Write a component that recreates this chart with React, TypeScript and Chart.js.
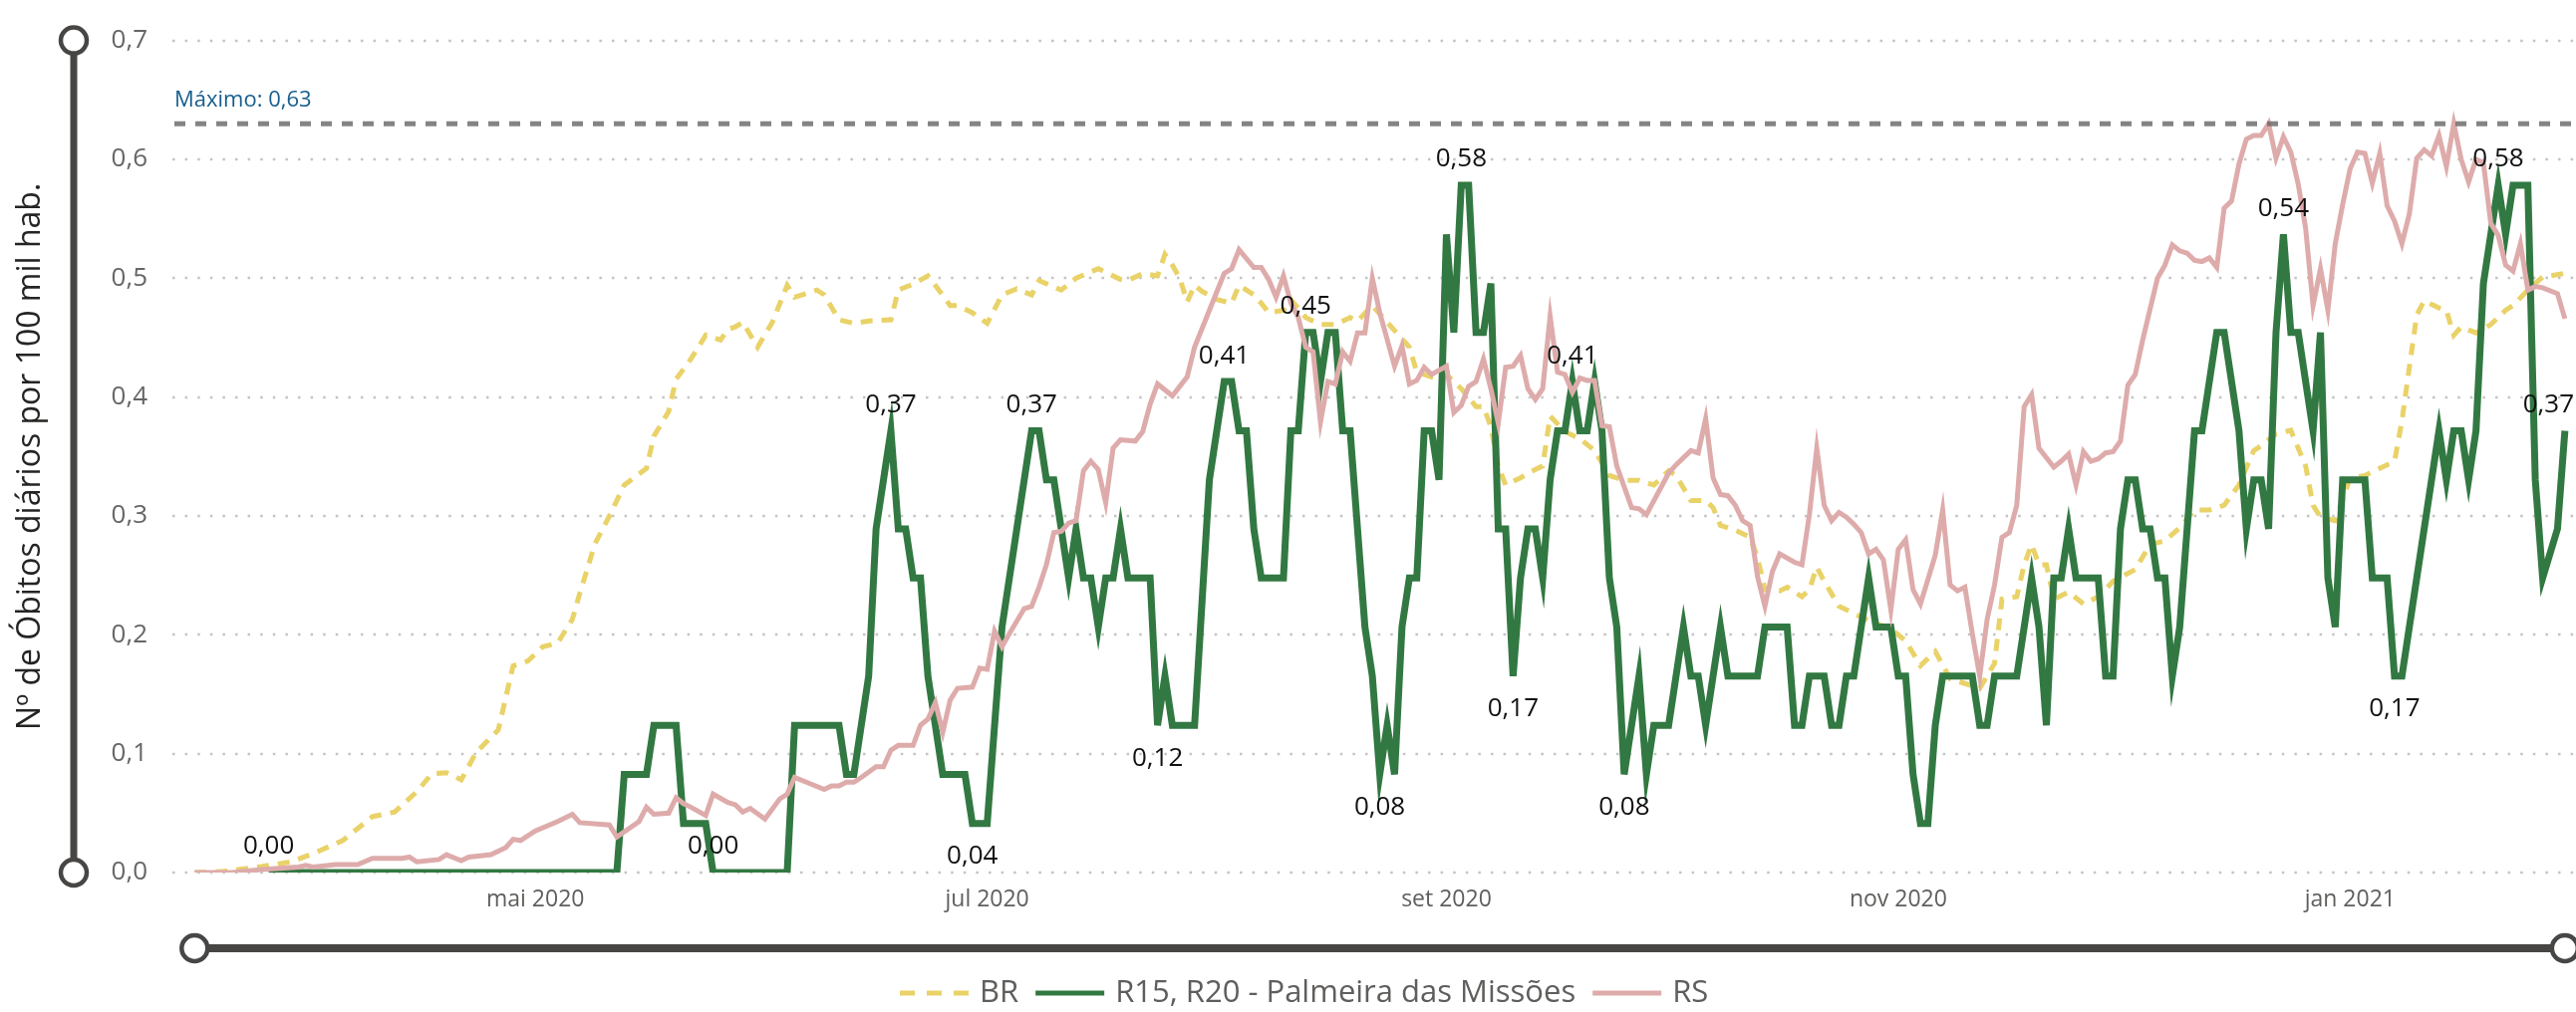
import React, { useEffect, useRef } from 'react';
import { Chart, registerables } from 'chart.js';

Chart.register(...registerables);

// ---------------- DATA ----------------
// x = days since 16 Mar 2020, y = deaths per 100k inhabitants (7-day average)
const MONTH_TICK_DAYS = [46, 107, 169, 230, 291];
const MONTH_TICK_LABELS = ['mai 2020', 'jul 2020', 'set 2020', 'nov 2020', 'jan 2021'];
const Y_TICKS = [0, 0.1, 0.2, 0.3, 0.4, 0.5, 0.6, 0.7];
const SERIES_NAMES = ['BR', 'R15, R20 - Palmeira das Missões', 'RS'];

const BR_POINTS: [number, number][] = [
  [0, 0], [4, 0.001], [9, 0.005], [13, 0.009], [16, 0.016], [20, 0.027], [24, 0.047], [27, 0.051], [30, 0.068],
  [32, 0.083], [34, 0.084], [36, 0.078], [38, 0.101], [41, 0.12], [43, 0.174], [45, 0.178], [47, 0.19], [49, 0.193],
  [51, 0.213], [52, 0.235], [53, 0.255], [54, 0.276], [56, 0.3], [58, 0.326], [61, 0.34], [62, 0.367], [64, 0.388],
  [65, 0.415], [67, 0.432], [69, 0.452], [71, 0.448], [72, 0.457], [73, 0.459], [74, 0.463], [76, 0.442], [78, 0.463],
  [80, 0.494], [81, 0.484], [84, 0.49], [85, 0.486], [87, 0.465], [89, 0.462], [91, 0.464], [94, 0.465], [95, 0.49],
  [97, 0.495], [99, 0.502], [100, 0.494], [102, 0.477], [103, 0.477], [105, 0.471], [107, 0.462], [109, 0.486],
  [111, 0.491], [113, 0.486], [114, 0.498], [117, 0.49], [119, 0.5], [122, 0.508], [125, 0.499], [126, 0.498],
  [128, 0.504], [130, 0.502], [131, 0.52], [132, 0.511], [133, 0.5], [134, 0.48], [135, 0.494], [136, 0.489],
  [138, 0.482], [140, 0.479], [141, 0.494], [143, 0.486], [144, 0.479], [145, 0.471], [147, 0.473], [148, 0.482],
  [150, 0.467], [152, 0.461], [154, 0.461], [156, 0.467], [157, 0.464], [159, 0.477], [162, 0.456], [164, 0.442],
  [165, 0.421], [167, 0.417], [169, 0.419], [171, 0.407], [173, 0.392], [174, 0.392], [175, 0.375], [176, 0.342],
  [177, 0.326], [179, 0.332], [180, 0.336], [182, 0.342], [183, 0.384], [185, 0.371], [187, 0.365], [189, 0.355],
  [191, 0.334], [193, 0.33], [195, 0.33], [197, 0.326], [199, 0.338], [200, 0.334], [202, 0.313], [204, 0.313],
  [205, 0.307], [206, 0.292], [208, 0.288], [210, 0.282], [211, 0.265], [212, 0.238], [214, 0.237], [215, 0.24],
  [217, 0.232], [218, 0.238], [219, 0.257], [220, 0.245], [222, 0.224], [224, 0.218], [226, 0.212], [229, 0.205],
  [231, 0.195], [233, 0.174], [235, 0.186], [237, 0.163], [239, 0.159], [241, 0.155], [243, 0.176], [244, 0.23],
  [246, 0.232], [247, 0.259], [248, 0.276], [249, 0.259], [250, 0.259], [251, 0.23], [253, 0.236], [255, 0.226],
  [257, 0.232], [259, 0.245], [262, 0.255], [264, 0.276], [266, 0.279], [268, 0.29], [270, 0.305], [272, 0.305],
  [274, 0.309], [276, 0.326], [278, 0.355], [279, 0.359], [281, 0.369], [283, 0.372], [285, 0.342], [286, 0.309],
  [287, 0.299], [289, 0.296], [291, 0.332], [293, 0.334], [295, 0.34], [297, 0.346], [298, 0.38], [299, 0.425],
  [300, 0.469], [301, 0.481], [303, 0.475], [304, 0.473], [305, 0.452], [306, 0.459], [308, 0.454], [310, 0.461],
  [312, 0.473], [313, 0.477], [315, 0.49], [317, 0.501], [320, 0.504],
];

const R15_POINTS: [number, number][] = [
  [10, 0], [57, 0], [58, 0.0826], [61, 0.0826], [62, 0.1239], [65, 0.1239], [66, 0.0413], [69, 0.0413], [70, 0],
  [80, 0], [81, 0.1239], [87, 0.1239], [88, 0.0826], [89, 0.0826], [91, 0.1652], [92, 0.2891], [94, 0.3717],
  [95, 0.2891], [96, 0.2891], [97, 0.2478], [98, 0.2478], [99, 0.1652], [101, 0.0826], [104, 0.0826], [105, 0.0413],
  [107, 0.0413], [109, 0.2065], [111, 0.2891], [113, 0.3717], [114, 0.3717], [115, 0.3304], [116, 0.3304],
  [118, 0.2478], [119, 0.2891], [120, 0.2478], [121, 0.2478], [122, 0.2065], [123, 0.2478], [124, 0.2478],
  [125, 0.2891], [126, 0.2478], [129, 0.2478], [130, 0.1239], [131, 0.1652], [132, 0.1239], [135, 0.1239],
  [137, 0.3304], [139, 0.413], [140, 0.413], [141, 0.3717], [142, 0.3717], [143, 0.2891], [144, 0.2478],
  [147, 0.2478], [148, 0.3717], [149, 0.3717], [150, 0.4543], [151, 0.4543], [152, 0.413], [153, 0.4543],
  [154, 0.4543], [155, 0.3717], [156, 0.3717], [158, 0.2065], [159, 0.1652], [160, 0.0826], [161, 0.1239],
  [162, 0.0826], [163, 0.2065], [164, 0.2478], [165, 0.2478], [166, 0.3717], [167, 0.3717], [168, 0.3304],
  [169, 0.5369], [170, 0.4543], [171, 0.5782], [172, 0.5782], [173, 0.4543], [174, 0.4543], [175, 0.4956],
  [176, 0.2891], [177, 0.2891], [178, 0.1652], [179, 0.2478], [180, 0.2891], [181, 0.2891], [182, 0.2478],
  [183, 0.3304], [184, 0.3717], [185, 0.3717], [186, 0.413], [187, 0.3717], [188, 0.3717], [189, 0.413],
  [190, 0.3717], [191, 0.2478], [192, 0.2065], [193, 0.0826], [195, 0.1652], [196, 0.0826], [197, 0.1239],
  [199, 0.1239], [201, 0.2065], [202, 0.1652], [203, 0.1652], [204, 0.1239], [206, 0.2065], [207, 0.1652],
  [211, 0.1652], [212, 0.2065], [215, 0.2065], [216, 0.1239], [217, 0.1239], [218, 0.1652], [220, 0.1652],
  [221, 0.1239], [222, 0.1239], [223, 0.1652], [224, 0.1652], [226, 0.2478], [227, 0.2065], [229, 0.2065],
  [230, 0.1652], [231, 0.1652], [232, 0.0826], [233, 0.0413], [234, 0.0413], [235, 0.1239], [236, 0.1652],
  [240, 0.1652], [241, 0.1239], [242, 0.1239], [243, 0.1652], [246, 0.1652], [248, 0.2478], [249, 0.2065],
  [250, 0.1239], [251, 0.2478], [252, 0.2478], [253, 0.2891], [254, 0.2478], [257, 0.2478], [258, 0.1652],
  [259, 0.1652], [260, 0.2891], [261, 0.3304], [262, 0.3304], [263, 0.2891], [264, 0.2891], [265, 0.2478],
  [266, 0.2478], [267, 0.1652], [268, 0.2065], [270, 0.3717], [271, 0.3717], [273, 0.4543], [274, 0.4543],
  [276, 0.3717], [277, 0.2891], [278, 0.3304], [279, 0.3304], [280, 0.2891], [281, 0.4543], [282, 0.5369],
  [283, 0.4543], [284, 0.4543], [286, 0.3717], [287, 0.4543], [288, 0.2478], [289, 0.2065], [290, 0.3304],
  [293, 0.3304], [294, 0.2478], [296, 0.2478], [297, 0.1652], [298, 0.1652], [303, 0.3717], [304, 0.3304],
  [305, 0.3717], [306, 0.3717], [307, 0.3304], [308, 0.3717], [309, 0.4956], [310, 0.5369], [311, 0.5782],
  [312, 0.5369], [313, 0.5782], [315, 0.5782], [316, 0.3304], [317, 0.2478], [319, 0.2891], [320, 0.3717],
];

const RS_POINTS: [number, number][] = [
  [0, 0], [5, 0], [9, 0.0025], [14, 0.0046], [15, 0.006], [16, 0.0046], [19, 0.0067], [22, 0.0067], [24, 0.012],
  [28, 0.012], [29, 0.013], [30, 0.009], [33, 0.011], [34, 0.015], [36, 0.01], [37, 0.013], [40, 0.015], [42, 0.021],
  [43, 0.028], [44, 0.027], [46, 0.035], [49, 0.043], [51, 0.049], [52, 0.042], [56, 0.04], [57, 0.03], [60, 0.043],
  [61, 0.055], [62, 0.049], [64, 0.05], [65, 0.063], [66, 0.058], [67, 0.055], [69, 0.048], [70, 0.066], [72, 0.059],
  [73, 0.057], [74, 0.051], [75, 0.054], [77, 0.045], [79, 0.062], [80, 0.066], [81, 0.08], [83, 0.075], [85, 0.07],
  [86, 0.073], [87, 0.073], [88, 0.076], [89, 0.076], [90, 0.08], [92, 0.089], [93, 0.089], [94, 0.103], [95, 0.107],
  [97, 0.107], [98, 0.124], [99, 0.129], [100, 0.143], [101, 0.118], [102, 0.145], [103, 0.155], [105, 0.156],
  [106, 0.172], [107, 0.171], [108, 0.203], [109, 0.19], [110, 0.201], [112, 0.222], [113, 0.224], [114, 0.24],
  [115, 0.259], [116, 0.286], [117, 0.287], [118, 0.294], [119, 0.296], [120, 0.338], [121, 0.346], [122, 0.339],
  [123, 0.311], [124, 0.357], [125, 0.364], [127, 0.363], [128, 0.371], [129, 0.394], [130, 0.411], [132, 0.401],
  [133, 0.409], [134, 0.417], [135, 0.442], [137, 0.473], [139, 0.504], [140, 0.508], [141, 0.524], [143, 0.509],
  [144, 0.509], [145, 0.499], [146, 0.484], [147, 0.502], [148, 0.479], [149, 0.467], [150, 0.442], [151, 0.438],
  [152, 0.379], [153, 0.413], [154, 0.411], [155, 0.438], [156, 0.43], [157, 0.454], [158, 0.454], [159, 0.5],
  [160, 0.471], [162, 0.426], [163, 0.443], [164, 0.411], [165, 0.414], [166, 0.425], [167, 0.419], [169, 0.426],
  [170, 0.387], [171, 0.393], [172, 0.409], [173, 0.413], [174, 0.432], [175, 0.407], [176, 0.378], [177, 0.425],
  [178, 0.426], [179, 0.435], [180, 0.407], [181, 0.398], [182, 0.407], [183, 0.468], [184, 0.421], [185, 0.419],
  [186, 0.404], [187, 0.416], [188, 0.414], [189, 0.414], [190, 0.376], [191, 0.375], [192, 0.342], [194, 0.307],
  [195, 0.306], [196, 0.301], [199, 0.336], [200, 0.343], [202, 0.355], [203, 0.353], [204, 0.382], [205, 0.332],
  [206, 0.318], [207, 0.317], [208, 0.309], [209, 0.296], [210, 0.292], [211, 0.249], [212, 0.224], [213, 0.253],
  [214, 0.268], [216, 0.261], [217, 0.259], [218, 0.301], [219, 0.357], [220, 0.309], [221, 0.296], [222, 0.303],
  [223, 0.299], [224, 0.293], [225, 0.286], [226, 0.268], [227, 0.272], [228, 0.263], [229, 0.221], [230, 0.272],
  [231, 0.28], [232, 0.238], [233, 0.226], [235, 0.267], [236, 0.305], [237, 0.242], [238, 0.237], [239, 0.24],
  [240, 0.201], [241, 0.165], [242, 0.213], [243, 0.242], [244, 0.282], [245, 0.286], [246, 0.309], [247, 0.392],
  [248, 0.402], [249, 0.357], [251, 0.341], [252, 0.346], [253, 0.352], [254, 0.326], [255, 0.354], [256, 0.346],
  [257, 0.348], [258, 0.353], [259, 0.354], [260, 0.363], [261, 0.41], [262, 0.419], [263, 0.448], [265, 0.5],
  [266, 0.511], [267, 0.528], [268, 0.523], [269, 0.521], [270, 0.515], [271, 0.514], [272, 0.517], [273, 0.509],
  [274, 0.559], [275, 0.565], [276, 0.596], [277, 0.617], [278, 0.62], [279, 0.62], [280, 0.63], [281, 0.601],
  [282, 0.619], [283, 0.606], [284, 0.579], [285, 0.542], [286, 0.477], [287, 0.508], [288, 0.473], [289, 0.529],
  [290, 0.562], [291, 0.592], [292, 0.606], [293, 0.605], [294, 0.58], [295, 0.605], [296, 0.561], [297, 0.548],
  [298, 0.529], [299, 0.554], [300, 0.601], [301, 0.608], [302, 0.603], [303, 0.62], [304, 0.594], [305, 0.63],
  [306, 0.6], [307, 0.581], [308, 0.6], [309, 0.597], [310, 0.546], [311, 0.536], [312, 0.511], [313, 0.506],
  [314, 0.529], [315, 0.49], [316, 0.493], [317, 0.492], [319, 0.487], [320, 0.466],
];

// data labels on the R15 series: day and whether the label sits below the point
const LABEL_DAYS = [10, 70, 94, 105, 113, 130, 139, 150, 160, 171, 178, 186, 193, 282, 297, 311, 320];
const LABEL_BELOW = [false, false, false, true, false, true, false, false, true, false, true, false, true, false, true, false, false];

// ---------------- STYLE ----------------
const FONT = "'Open Sans', 'Noto Sans', sans-serif";
const YELLOW = 'rgb(233, 210, 104)';
const GREEN = 'rgb(50, 120, 66)';
const PINK = 'rgb(222, 171, 171)';
const AXIS_DARK = '#474645';
const TEXT_GRAY = '#605E5C';

const fmt = (v: number, d: number) => v.toFixed(d).replace('.', ',');

const decorPlugin = {
  id: 'decor',
  beforeDatasetsDraw(chart: any) {
    const { ctx, chartArea, scales } = chart;
    const y = scales.y;
    ctx.save();
    ctx.strokeStyle = '#C4C4C4';
    ctx.lineWidth = 2.5;
    ctx.setLineDash([2.5, 10.1]);
    for (const v of Y_TICKS) {
      const py = Math.round(y.getPixelForValue(v));
      ctx.beginPath();
      ctx.moveTo(chartArea.left, py);
      ctx.lineTo(chartArea.right, py);
      ctx.stroke();
    }
    ctx.restore();
  },
  afterDatasetsDraw(chart: any) {
    const { ctx, chartArea, scales } = chart;
    const x = scales.x;
    const y = scales.y;
    // maximum line
    const allVals = [...BR_POINTS, ...R15_POINTS, ...RS_POINTS].map((p) => p[1]);
    const maxVal = Math.max(...allVals);
    const my = y.getPixelForValue(maxVal);
    ctx.save();
    ctx.strokeStyle = 'rgba(105,105,105,0.82)';
    ctx.lineWidth = 5;
    ctx.setLineDash([11, 10]);
    ctx.beginPath();
    ctx.moveTo(chartArea.left + 2, my);
    ctx.lineTo(chartArea.right, my);
    ctx.stroke();
    ctx.setLineDash([]);
    ctx.fillStyle = '#165D8C';
    ctx.font = `22px ${FONT}`;
    ctx.textAlign = 'left';
    ctx.textBaseline = 'middle';
    ctx.fillText('Máximo: ' + fmt(maxVal, 2), chartArea.left + 2, my - 23);

    // data labels
    ctx.font = `26px ${FONT}`;
    ctx.fillStyle = '#111';
    ctx.textAlign = 'center';
    LABEL_DAYS.forEach((d, i) => {
      const pt = R15_POINTS.find((p) => p[0] === d);
      if (!pt) return;
      const txt = fmt(pt[1], 2);
      let px = x.getPixelForValue(pt[0]);
      const w = ctx.measureText(txt).width;
      if (px + w / 2 > chart.width - 2) px = chart.width - 2 - w / 2;
      const py = y.getPixelForValue(pt[1]) + (LABEL_BELOW[i] ? 33 : -26);
      ctx.fillText(txt, px, py);
    });
    ctx.restore();
  },
  afterDraw(chart: any) {
    const { ctx, chartArea, scales } = chart;
    const x = scales.x;
    const y = scales.y;
    ctx.save();
    const ring = (cx: number, cy: number) => {
      ctx.beginPath();
      ctx.arc(cx, cy, 13, 0, Math.PI * 2);
      ctx.fillStyle = '#fff';
      ctx.fill();
      ctx.lineWidth = 4.5;
      ctx.strokeStyle = AXIS_DARK;
      ctx.stroke();
    };
    // vertical decorative axis
    const vx = 74;
    const yTop = y.getPixelForValue(0.7);
    const yBot = y.getPixelForValue(0);
    ctx.strokeStyle = AXIS_DARK;
    ctx.lineWidth = 7;
    ctx.beginPath();
    ctx.moveTo(vx, yTop);
    ctx.lineTo(vx, yBot);
    ctx.stroke();
    ring(vx, yTop);
    ring(vx, yBot);
    // horizontal decorative axis
    const hy = 952;
    const xL = x.getPixelForValue(RS_POINTS[0][0]);
    const xR = x.getPixelForValue(RS_POINTS[RS_POINTS.length - 1][0]);
    ctx.strokeStyle = AXIS_DARK;
    ctx.lineWidth = 8;
    ctx.beginPath();
    ctx.moveTo(xL, hy);
    ctx.lineTo(xR, hy);
    ctx.stroke();
    ring(xL, hy);
    ring(xR, hy);

    // y axis title
    ctx.save();
    ctx.translate(31, (chartArea.top + chartArea.bottom) / 2);
    ctx.rotate(-Math.PI / 2);
    ctx.fillStyle = '#252423';
    ctx.font = `32px ${FONT}`;
    ctx.textAlign = 'center';
    ctx.textBaseline = 'middle';
    ctx.fillText('Nº de Óbitos diários por 100 mil hab.', 0, 0);
    ctx.restore();

    // legend
    const items = [
      { name: SERIES_NAMES[0], color: YELLOW, dash: [15, 12] },
      { name: SERIES_NAMES[1], color: GREEN, dash: [] as number[] },
      { name: SERIES_NAMES[2], color: PINK, dash: [] as number[] },
    ];
    ctx.font = `31px ${FONT}`;
    ctx.textBaseline = 'middle';
    ctx.textAlign = 'left';
    const ly = 997;
    let lx = 903;
    items.forEach((it) => {
      ctx.strokeStyle = it.color;
      ctx.lineWidth = 5;
      ctx.setLineDash(it.dash);
      ctx.beginPath();
      ctx.moveTo(lx, ly);
      ctx.lineTo(lx + 69, ly);
      ctx.stroke();
      ctx.setLineDash([]);
      lx += 69 + 11;
      ctx.fillStyle = TEXT_GRAY;
      ctx.fillText(it.name, lx, ly);
      lx += ctx.measureText(it.name).width + 17;
    });
    ctx.restore();
  },
};

export default function App() {
  const ref = useRef<HTMLCanvasElement>(null);
  useEffect(() => {
    if (!ref.current) return;
    Chart.defaults.font.family = FONT;
    const toXY = (arr: [number, number][]) => arr.map(([d, v]) => ({ x: d, y: v }));
    const chart = new Chart(ref.current, {
      type: 'line',
      data: {
        datasets: [
          {
            label: SERIES_NAMES[0],
            data: toXY(BR_POINTS),
            borderColor: YELLOW,
            borderWidth: 5,
            borderDash: [12, 9],
            pointRadius: 0,
            tension: 0,
            fill: false,
            order: 3,
          },
          {
            label: SERIES_NAMES[1],
            data: toXY(R15_POINTS),
            borderColor: GREEN,
            borderWidth: 7,
            pointRadius: 0,
            tension: 0,
            fill: false,
            order: 2,
          },
          {
            label: SERIES_NAMES[2],
            data: toXY(RS_POINTS),
            borderColor: PINK,
            borderWidth: 5,
            pointRadius: 0,
            tension: 0,
            fill: false,
            order: 1,
          },
        ],
      },
      options: {
        animation: false,
        responsive: false,
        devicePixelRatio: 1,
        events: [],
        layout: { padding: { top: 30, right: 0, bottom: 0, left: 0 } },
        plugins: {
          legend: { display: false },
          tooltip: { enabled: false },
          title: { display: false },
        },
        scales: {
          x: {
            type: 'linear',
            min: -3,
            max: 321.5,
            afterBuildTicks: (s: any) => {
              s.ticks = MONTH_TICK_DAYS.map((v) => ({ value: v }));
            },
            afterFit: (s: any) => {
              s.height = 140;
            },
            ticks: {
              autoSkip: false,
              maxRotation: 0,
              padding: 14,
              color: TEXT_GRAY,
              font: { family: FONT, size: 23 },
              callback: (_v: any, i: number) => MONTH_TICK_LABELS[i] ?? '',
            },
            grid: { display: false, drawTicks: false },
            border: { display: false },
          },
          y: {
            type: 'linear',
            min: 0,
            max: 0.7,
            afterBuildTicks: (s: any) => {
              s.ticks = Y_TICKS.map((v) => ({ value: v }));
            },
            afterFit: (s: any) => {
              s.width = 173;
            },
            ticks: {
              padding: 25,
              color: '#666666',
              font: { family: FONT, size: 26 },
              callback: (v: any) => fmt(Number(v), 1),
            },
            grid: { display: false, drawTicks: false },
            border: { display: false },
          },
        },
      },
      plugins: [decorPlugin],
    } as any);
    return () => chart.destroy();
  }, []);

  return (
    <div style={{ position: 'absolute', left: 0, top: 0, width: 2585, height: 1016, background: '#fff' }}>
      <canvas ref={ref} width={2585} height={1016} style={{ display: 'block', width: 2585, height: 1016 }} />
    </div>
  );
}
